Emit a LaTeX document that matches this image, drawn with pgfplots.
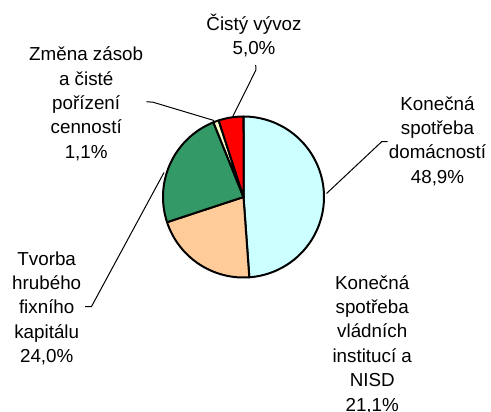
\documentclass[border=0pt]{standalone}
\usepackage{fontspec}
\setmainfont{Liberation Sans}
\usepackage{pgfplots}
\pgfplotsset{compat=1.18}

\definecolor{cDom}{HTML}{CCFFFF}
\definecolor{cVlad}{HTML}{FFCC99}
\definecolor{cKap}{HTML}{339966}
\definecolor{cZas}{HTML}{FFFFCC}
\definecolor{cVyv}{HTML}{FF0000}

% shares in %
\def\vDom{48.9}
\def\vVlad{21.1}
\def\vKap{24.0}
\def\vZas{1.1}
\def\vVyv{5.0}

\begin{document}
\begin{tikzpicture}
% slice boundaries, clockwise from 12 o'clock
\pgfmathsetmacro\tot{\vDom+\vVlad+\vKap+\vZas+\vVyv}
\pgfmathsetmacro\aA{90}
\pgfmathsetmacro\aB{\aA-\vDom/\tot*360}
\pgfmathsetmacro\aC{\aB-\vVlad/\tot*360}
\pgfmathsetmacro\aD{\aC-\vKap/\tot*360}
\pgfmathsetmacro\aE{\aD-\vZas/\tot*360}
\pgfmathsetmacro\aF{\aE-\vVyv/\tot*360}
\def\cx{243.5}
\def\cy{197}
\def\r{80.5}
\begin{axis}[
    width=245.5pt, height=205.5pt, scale only axis,
    xmin=0, xmax=491, ymin=0, ymax=411,
    y dir=reverse,
    hide axis, clip=false,
]
\pgfplotsset{slice/.style={draw=black, line width=1pt, line join=round, samples=80, variable=\t}}

\addplot[slice, fill=cDom, domain=\aB:\aA] ({\cx+\r*cos(\t)}, {\cy-\r*sin(\t)}) -- (axis cs:\cx,\cy) -- cycle;
\addplot[slice, fill=cVlad, domain=\aC:\aB] ({\cx+\r*cos(\t)}, {\cy-\r*sin(\t)}) -- (axis cs:\cx,\cy) -- cycle;
\addplot[slice, fill=cKap, domain=\aD:\aC] ({\cx+\r*cos(\t)}, {\cy-\r*sin(\t)}) -- (axis cs:\cx,\cy) -- cycle;
\addplot[slice, fill=cZas, domain=\aE:\aD, samples=10] ({\cx+\r*cos(\t)}, {\cy-\r*sin(\t)}) -- (axis cs:\cx,\cy) -- cycle;
\addplot[slice, fill=cVyv, domain=\aF:\aE, samples=20] ({\cx+\r*cos(\t)}, {\cy-\r*sin(\t)}) -- (axis cs:\cx,\cy) -- cycle;

% leader lines
\addplot[black, line width=0.5pt] coordinates {(326.5,193.5) (381.7,141.7) (387.5,141.7)};
\addplot[black, line width=0.5pt] coordinates {(164,172.5) (91.5,306.5) (85,306.5)};
\addplot[black, line width=0.5pt] coordinates {(146.5,101.7) (153,102.2) (214,120.5)};
\addplot[black, line width=0.5pt] coordinates {(255.7,65) (255.9,70) (232.7,116.7)};

% anchor=base sits on the last line
\tikzset{lab/.style={align=center, anchor=base, inner sep=0pt,
    font={\fontsize{9.4pt}{12.2pt}\selectfont}}}
\node[lab] at (axis cs:254,55) {Čistý vývoz\\5,0\%};
\node[lab] at (axis cs:86.2,158.3) {Změna zásob\\a čisté\\pořízení\\cenností\\1,1\%};
\node[lab] at (axis cs:437.5,183.3) {Konečná\\spotřeba\\domácností\\48,9\%};
\node[lab] at (axis cs:46.7,362.7) {Tvorba\\hrubého\\fixního\\kapitálu\\24,0\%};
\node[lab] at (axis cs:372.2,411) {Konečná\\spotřeba\\vládních\\institucí a\\NISD\\21,1\%};
\end{axis}
\pgfresetboundingbox
\useasboundingbox (current axis.south west) rectangle (current axis.north east);
\end{tikzpicture}
\end{document}
